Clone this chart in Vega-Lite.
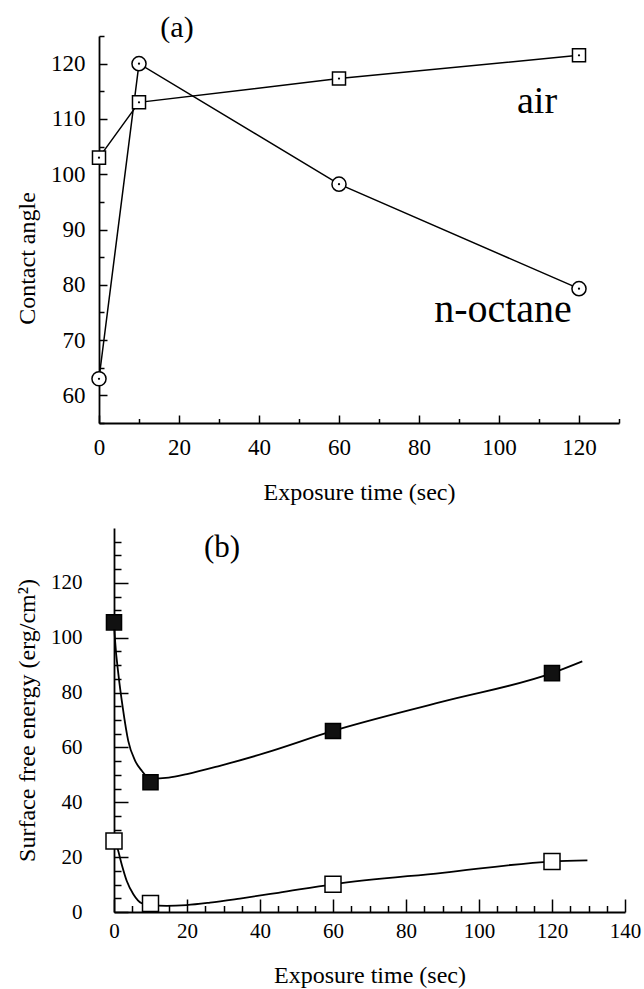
{
  "$schema": "https://vega.github.io/schema/vega-lite/v6.json",
  "background": "white",
  "padding": {"left": 15, "top": 13, "right": 5, "bottom": 2},
  "config": {
    "view": {"stroke": null},
    "font": "Liberation Serif",
    "axis": {
      "domainColor": "black", "domainWidth": 1.8, "tickColor": "black", "tickWidth": 1.5,
      "labelColor": "black", "titleColor": "black", "labelFont": "Liberation Serif", "titleFont": "Liberation Serif",
      "labelFontSize": 23, "titleFontSize": 24, "titleFontWeight": "normal", "grid": false,
      "labelFlush": false, "labelOverlap": false
    }
  },
  "columns": 1,
  "spacing": 23,
  "concat": [
    {
      "width": 505,
      "height": 387,
      "data": {"values": [
        {"t": 0, "angle": 103, "medium": "air"},
        {"t": 10, "angle": 113, "medium": "air"},
        {"t": 60, "angle": 117.3, "medium": "air"},
        {"t": 120, "angle": 121.5, "medium": "air"},
        {"t": 0, "angle": 63, "medium": "n-octane"},
        {"t": 10, "angle": 120, "medium": "n-octane"},
        {"t": 60, "angle": 98.2, "medium": "n-octane"},
        {"t": 120, "angle": 79.3, "medium": "n-octane"}
      ]},
      "encoding": {
        "x": {"field": "t", "type": "quantitative",
          "scale": {"domain": [0, 130], "nice": false, "zero": false, "range": [-15, 505]},
          "axis": {"title": "Exposure time (sec)", "values": [0,10,20,30,40,50,60,70,80,90,100,110,120,130],
            "tickSize": {"condition": {"test": "datum.value % 20 === 0", "value": -8}, "value": -4.5},
            "labelExpr": "datum.value % 20 === 0 ? datum.label : ''",
            "labelPadding": 21, "titlePadding": 18}},
        "y": {"field": "angle", "type": "quantitative",
          "scale": {"domain": [55, 125], "nice": false, "zero": false},
          "axis": {"title": "Contact angle", "values": [55,60,65,70,75,80,85,90,95,100,105,110,115,120,125],
            "tickSize": {"condition": {"test": "datum.value % 10 === 0", "value": -8}, "value": -5},
            "labelExpr": "datum.value % 10 === 0 ? datum.label : ''",
            "offset": 15,
            "labelPadding": 22, "titleX": -60, "titleY": 222}}
      },
      "layer": [
        {"mark": {"type": "line", "color": "black", "strokeWidth": 1.5},
         "encoding": {"detail": {"field": "medium"}}},
        {"mark": {"type": "point", "filled": true, "fill": "white", "stroke": "black", "strokeWidth": 1.5, "opacity": 1},
         "encoding": {
           "shape": {"field": "medium", "scale": {"domain": ["air", "n-octane"], "range": ["square", "circle"]}, "legend": null},
           "size": {"field": "medium", "scale": {"domain": ["air", "n-octane"], "range": [170, 256]}, "legend": null}
         }},
        {"mark": {"type": "point", "shape": "circle", "filled": true, "fill": "black", "size": 5, "opacity": 1},
         "encoding": {}},
        {"data": {"values": [{"t": 19.5, "angle": 126.4, "label": "(a)"}]},
         "mark": {"type": "text", "fontSize": 30, "font": "Liberation Serif", "color": "black", "baseline": "middle", "align": "center"},
         "encoding": {"text": {"field": "label"}}},
        {"data": {"values": [{"t": 109.5, "angle": 111.1, "label": "air"}]},
         "mark": {"type": "text", "fontSize": 38, "font": "Liberation Serif", "color": "black", "baseline": "alphabetic", "align": "center"},
         "encoding": {"text": {"field": "label"}}},
        {"data": {"values": [{"t": 101, "angle": 73.3, "label": "n-octane"}]},
         "mark": {"type": "text", "fontSize": 40, "font": "Liberation Serif", "color": "black", "baseline": "alphabetic", "align": "center"},
         "encoding": {"text": {"field": "label"}}}
      ]
    },
    {
      "width": 511,
      "height": 384,
      "encoding": {
        "x": {"field": "t", "type": "quantitative",
          "scale": {"domain": [0, 140], "nice": false, "zero": false},
          "axis": {"title": "Exposure time (sec)", "values": [0,5,10,15,20,25,30,35,40,45,50,55,60,65,70,75,80,85,90,95,100,105,110,115,120,125,130,135,140],
            "tickSize": {"condition": {"test": "datum.value % 20 === 0", "value": -13}, "value": -6.5},
            "labelExpr": "datum.value % 20 === 0 ? datum.label : ''",
            "labelFontSize": 21, "labelPadding": 21, "titlePadding": 16}},
        "y": {"field": "e", "type": "quantitative",
          "scale": {"domain": [0, 140], "nice": false, "zero": false},
          "axis": {"title": "Surface free energy (erg/cm²)", "values": [0,5,10,15,20,25,30,35,40,45,50,55,60,65,70,75,80,85,90,95,100,105,110,115,120,125,130,135],
            "tickSize": {"condition": {"test": "datum.value % 20 === 0", "value": -14}, "value": -7},
            "labelExpr": "datum.value % 20 === 0 ? datum.label : ''",
            "labelFontSize": 21, "labelPadding": 46, "titleX": -75}}
      },
      "layer": [
        {"data": {"values": [
          {"t": 0, "e": 105.6, "s": "filled"},
          {"t": 0.3, "e": 98.9, "s": "filled"},
          {"t": 1.2, "e": 86.7, "s": "filled"},
          {"t": 2.4, "e": 74.5, "s": "filled"},
          {"t": 3.9, "e": 62.4, "s": "filled"},
          {"t": 5.8, "e": 55.1, "s": "filled"},
          {"t": 7.6, "e": 51.5, "s": "filled"},
          {"t": 10, "e": 48.6, "s": "filled"},
          {"t": 15, "e": 49, "s": "filled"},
          {"t": 20, "e": 50.3, "s": "filled"},
          {"t": 29, "e": 53.3, "s": "filled"},
          {"t": 41, "e": 57.8, "s": "filled"},
          {"t": 60, "e": 66, "s": "filled"},
          {"t": 90, "e": 76.7, "s": "filled"},
          {"t": 120, "e": 87.1, "s": "filled"},
          {"t": 128.3, "e": 91.4, "s": "filled"},
          {"t": 0, "e": 25.9, "s": "open"},
          {"t": 0.9, "e": 23.4, "s": "open"},
          {"t": 2.1, "e": 17.4, "s": "open"},
          {"t": 3.5, "e": 11.3, "s": "open"},
          {"t": 5.3, "e": 6.5, "s": "open"},
          {"t": 7.6, "e": 3.2, "s": "open"},
          {"t": 10, "e": 2.5, "s": "open"},
          {"t": 14.4, "e": 2.2, "s": "open"},
          {"t": 19.9, "e": 2.5, "s": "open"},
          {"t": 26.3, "e": 3.4, "s": "open"},
          {"t": 34.5, "e": 4.9, "s": "open"},
          {"t": 45, "e": 7, "s": "open"},
          {"t": 60, "e": 10.1, "s": "open"},
          {"t": 90, "e": 14.3, "s": "open"},
          {"t": 120, "e": 18.4, "s": "open"},
          {"t": 129.7, "e": 18.8, "s": "open"}
        ]},
         "mark": {"type": "line", "color": "black", "strokeWidth": 1.8, "interpolate": "monotone"},
         "encoding": {"detail": {"field": "s"}}},
        {"data": {"values": [
          {"t": 0, "e": 105.6, "s": "filled"},
          {"t": 10, "e": 47.3, "s": "filled"},
          {"t": 60, "e": 66, "s": "filled"},
          {"t": 120, "e": 87.1, "s": "filled"},
          {"t": 0, "e": 25.9, "s": "open"},
          {"t": 10, "e": 3.1, "s": "open"},
          {"t": 60, "e": 10.1, "s": "open"},
          {"t": 120, "e": 18.4, "s": "open"}
        ]},
         "mark": {"type": "point", "shape": "square", "filled": true, "stroke": "black", "strokeWidth": 1.5, "opacity": 1},
         "encoding": {
           "fill": {"field": "s", "scale": {"domain": ["filled", "open"], "range": ["#111111", "white"]}, "legend": null},
           "size": {"field": "s", "scale": {"domain": ["filled", "open"], "range": [361, 169]}, "legend": null}
         }},
        {"data": {"values": [{"t": 29.6, "e": 132.8, "label": "(b)"}]},
         "mark": {"type": "text", "fontSize": 31, "font": "Liberation Serif", "color": "black", "baseline": "middle", "align": "center"},
         "encoding": {"text": {"field": "label"}}}
      ]
    }
  ]
}
